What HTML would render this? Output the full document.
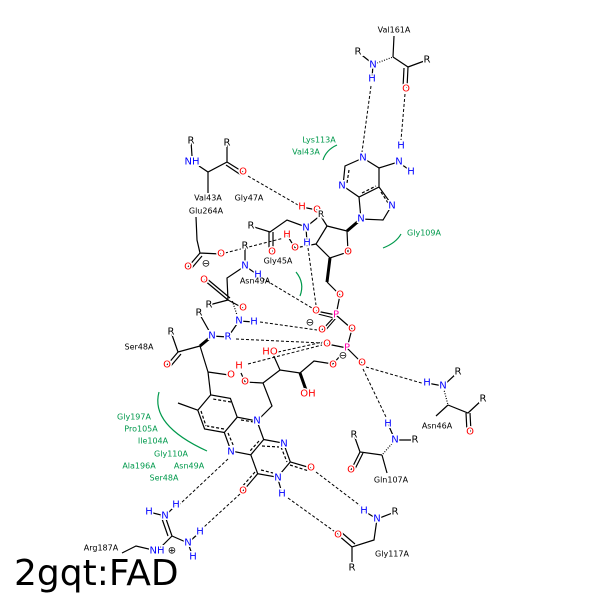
<!DOCTYPE html>
<html><head><meta charset="utf-8"><style>
html,body{margin:0;padding:0;background:#fff;}
svg{display:block;}
text{font-family:"DejaVu Sans","Liberation Sans",sans-serif;}
.a{font-size:10px;text-anchor:middle;dominant-baseline:central;stroke:#fff;stroke-width:3px;paint-order:stroke;}
.l{font-size:8px;text-anchor:middle;dominant-baseline:central;fill:#000;}
.g{font-size:8px;text-anchor:middle;dominant-baseline:central;fill:#00994c;}
.N{fill:#0000ff}.O{fill:#ff0000}.P{fill:#ff00aa}.K{fill:#000}
.b{stroke:#000;stroke-width:1.2;fill:none;}
.w{stroke:#000;stroke-width:3;fill:none;}
.d{stroke:#000;stroke-width:1;stroke-dasharray:3,2;fill:none;}
.arc{stroke:#00994c;stroke-width:1.2;fill:none;}
</style></head><body>
<svg width="600" height="600" viewBox="0 0 600 600" xmlns="http://www.w3.org/2000/svg">
<rect width="600" height="600" fill="#fff"/>
<g class="b">
<!-- Val161A -->
<path d="M394,36 L393,57 M358,52 L373,64 M408,67 L393,57 M408,67 L427,60 M404,68 L403,88 M408,67 L407,88 M373,64 L372,79"/>
<!-- adenine -->
<path d="M363,158 L345,166 L343,186 L359,197 L379,187 L379,168 Z M379,187 L392,205 L383,220 L361,219 L359,197 M379,168 L398,162 L411,171"/>
<path d="M349,170 L347,183 M362,193 L376,186 M381,192 L390,206" stroke-dasharray="3,2"/>
<!-- ribose -->
<path d="M347,231 L348,252 L330,258 L316,244 L327,226 Z M327,226 L317,210 L302,207 M316,244 L295,248 L287,235 M306,227 L321,215 M306,227 L307,243"/>
<path d="M340,295 L336,315 L316,311 M336,315 L322,330 M336,315 L352,329 L347,348 L327,344 M347,348 L333,364 M347,348 L362,363 M333,364 L314,361 L300,373 L280,370 L263,383 L272,406 L257,421 M300,373 L308,393 M263,383 L245,382 L241,373 M280,370 L272,352 M327,282 L340,295"/>
<path d="M334,318 L318,314 M336,318 L324,332" stroke-width="1"/>
<!-- flavin -->
<path d="M257,421 L263.7,439.5 L250.8,454.8 L231,451 L224.3,432.5 L237.2,417.2 Z M263.7,439.5 L283.5,443.1 L290.3,461.9 L277.4,477.2 L257.7,473.7 L250.8,454.8 M237.2,417.2 L230.4,398.4 L210.7,394.9 L197.8,410.2 L204.6,429 L224.3,432.5 M197.8,410.2 L178,403 M210.7,394.9 L208,372 L229,375 M208,372 L200,346 M290.3,461.9 L311,468 M257.7,473.7 L243,491 M277.4,477.2 L282,493"/>
<path d="M290,465 L309,471 M255,472 L241,488 M241,420 L254,422 M259,441 L250,451 M228,433 L234,447 M231,402 L213,399 M201,411 L206,426 M224,429 L207,426 M281,447 L287,462 M261,470 L273,473 M262,446 L279,447" stroke-dasharray="3,2"/>
<!-- Val43A -->
<path d="M191,141 L192,156 M199,166 L208,172 L227,162 L227,143 M227,162 L243,172 M226,165 L241,175 M208,172 L208,193"/>
<!-- Glu264A -->
<path d="M196,217 L197,240 L200,253 L221,254 M200,253 L188,267 M202,256 L191,269"/>
<!-- Gly45A -->
<path d="M251,226 L270,232 L287,220 L306,227 M269,232 L269,252 M273,232 L273,252"/>
<!-- Asn49A / misc -->
<path d="M245,246 L245,266 L258,275 M245,266 L227,278 L228,300 L209,305 M228,300 L204,280 M230,298 L206,278 M228,300 L243,308 M199,313 L212,336 L228,337 M239,321 L254,322 M239,321 L228,337 M200,346 L178,352 L171,332 M178,352 L167,365 M181,354 L170,367"/>
<!-- Asn46A, Gln107A, Gly117A -->
<path d="M427,383 L443,386 L458,372 M448,405 L468,413 L483,399 M466,413 L467,432 M470,413 L471,432 M448,405 L436,416 M388,424 L395,440 L415,440 M382,455 L360,452 L354,435 M360,452 L351,470 M363,453 L354,471 M382,455 L387,473 M364,511 L377,519 L395,512 M377,519 L374,540 L352,547 L338,535 M352,547 L352,568 M355,544 L341,532"/>
<!-- Arg187A -->
<path d="M122,553 L136,546 L157,551 L172,536 L165,516 M168,536 L161,516 M172,536 L188,543 M149,512 L165,516 L176,505 M188,543 L200,532 M188,543 L193,557"/>
</g>
<!-- wedges -->
<g class="w">
<path d="M361,219 L347,231 M330,258 L327,282 M300,373 L306,390 M200,346 L212,336 M374,540 L374,540"/>
</g>
<g class="b" stroke-dasharray="1,1.5" stroke-width="2.5">
<path d="M377,63 L393,57 M443,386 L448,405 M395,440 L382,455 M239,321 L232,300"/>
</g>
<!-- h-bonds -->
<g class="d">
<path d="M371,86 L362,152 M405,94 L401,140 M248,176 L298,205 M225,253 L284,238 M262,278 L312,308 M308,248 L316,305 M260,322 L317,330 M236,339 L322,343 M248,364 L322,345 M278,352 L323,342 M366,367 L425,384 M363,369 L386,417 M228,459 L180,504 M240,494 L204,527 M316,472 L362,507 M288,498 L338,534"/>
</g>
<!-- arcs -->
<g class="arc">
<path d="M323,160 Q326,150 337,145"/>
<path d="M383,248 Q396,243 401,234"/>
<path d="M296,272 Q305,283 300,296"/>
<path d="M159,392 Q150,425 207,451"/>
</g>
<!-- atom labels -->
<g class="a">
<text x="394" y="30" class="l" style="stroke-width:0">Val161A</text>
<text x="358" y="52" class="K">R</text>
<text x="373" y="65" class="N">N</text>
<text x="372" y="79" class="N">H</text>
<text x="427" y="60" class="K">R</text>
<text x="406" y="89" class="O">O</text>
<text x="401" y="146" class="N">H</text>
<text x="399" y="162" class="N">N</text>
<text x="411" y="172" class="N">H</text>
<text x="363" y="158" class="N">N</text>
<text x="342" y="186" class="N">N</text>
<text x="392" y="206" class="N">N</text>
<text x="361" y="219" class="N">N</text>
<text x="348" y="252" class="O">O</text>
<text x="317" y="210" class="O">O</text>
<text x="302" y="207" class="O">H</text>
<text x="321" y="215" class="K" style="font-size:9px">R</text>
<text x="306" y="228" class="N">N</text>
<text x="307" y="243" class="N">H</text>
<text x="287" y="235" class="O">H</text>
<text x="295" y="248" class="O">O</text>
<text x="340" y="295" class="O">O</text>
<text x="336" y="315" class="P">P</text>
<text x="316" y="311" class="O">O</text>
<text x="322" y="330" class="O">O</text>
<text x="352" y="329" class="O">O</text>
<text x="347" y="348" class="P">P</text>
<text x="327" y="344" class="O">O</text>
<text x="333" y="365" class="O">O</text>
<text x="362" y="363" class="O">O</text>
<text x="310" y="323" class="K">⊖</text>
<text x="343" y="356" class="K">⊖</text>
<text x="308" y="394" class="O">OH</text>
<text x="270" y="352" class="O">HO</text>
<text x="245" y="382" class="O">O</text>
<text x="239" y="366" class="O">H</text>
<text x="231" y="375" class="O">O</text>
<text x="257" y="421" class="N">N</text>
<text x="231" y="452" class="N">N</text>
<text x="284" y="444" class="N">N</text>
<text x="278" y="478" class="N">N</text>
<text x="282" y="494" class="N">H</text>
<text x="311" y="468" class="O">O</text>
<text x="243" y="491" class="O">O</text>
<text x="191" y="141" class="K">R</text>
<text x="192" y="162" class="N">NH</text>
<text x="227" y="143" class="K">R</text>
<text x="243" y="172" class="O">O</text>
<text x="221" y="254" class="O">O</text>
<text x="188" y="267" class="O">O</text>
<text x="206" y="264" class="K">⊖</text>
<text x="251" y="226" class="K">R</text>
<text x="272" y="252" class="O">O</text>
<text x="245" y="246" class="K">R</text>
<text x="245" y="266" class="N">N</text>
<text x="258" y="275" class="N">H</text>
<text x="204" y="280" class="O">O</text>
<text x="243" y="308" class="O">O</text>
<text x="209" y="305" class="K">R</text>
<text x="199" y="313" class="K">R</text>
<text x="239" y="321" class="N">N</text>
<text x="254" y="322" class="N">H</text>
<text x="212" y="336" class="N">N</text>
<text x="228" y="337" class="N">R</text>
<text x="171" y="332" class="K">R</text>
<text x="167" y="365" class="O">O</text>
<text x="427" y="383" class="N">H</text>
<text x="443" y="386" class="N">N</text>
<text x="458" y="372" class="K">R</text>
<text x="483" y="399" class="K">R</text>
<text x="470" y="432" class="O">O</text>
<text x="388" y="424" class="N">H</text>
<text x="395" y="440" class="N">N</text>
<text x="415" y="440" class="K">R</text>
<text x="354" y="435" class="K">R</text>
<text x="351" y="470" class="O">O</text>
<text x="364" y="511" class="N">H</text>
<text x="377" y="519" class="N">N</text>
<text x="395" y="512" class="K">R</text>
<text x="338" y="535" class="O">O</text>
<text x="352" y="568" class="K">R</text>
<text x="157" y="551" class="N">NH</text>
<text x="172" y="551" class="K">⊕</text>
<text x="149" y="512" class="N">H</text>
<text x="165" y="516" class="N">N</text>
<text x="176" y="505" class="N">H</text>
<text x="188" y="543" class="N">N</text>
<text x="200" y="532" class="N">H</text>
<text x="193" y="557" class="N">H</text>
</g>
<g>
<text x="208" y="198" class="l">Val43A</text>
<text x="249" y="198" class="l">Gly47A</text>
<text x="206" y="211" class="l">Glu264A</text>
<text x="278" y="261" class="l">Gly45A</text>
<text x="255" y="281" class="l">Asn49A</text>
<text x="139" y="347" class="l">Ser48A</text>
<text x="437" y="426" class="l">Asn46A</text>
<text x="391" y="480" class="l">Gln107A</text>
<text x="392" y="554" class="l">Gly117A</text>
<text x="101" y="548" class="l">Arg187A</text>
<text x="319" y="140" class="g">Lys113A</text>
<text x="306" y="152" class="g">Val43A</text>
<text x="424" y="233" class="g">Gly109A</text>
<text x="134" y="417" class="g">Gly197A</text>
<text x="141" y="429" class="g">Pro105A</text>
<text x="153" y="441" class="g">Ile104A</text>
<text x="171" y="454" class="g">Gly110A</text>
<text x="139" y="466" class="g">Ala196A</text>
<text x="189" y="466" class="g">Asn49A</text>
<text x="164" y="478" class="g">Ser48A</text>
</g>
<text x="14" y="585" style="font-size:36px;font-family:'DejaVu Sans','Liberation Sans',sans-serif;" fill="#000">2gqt:FAD</text>
</svg>
</body></html>
